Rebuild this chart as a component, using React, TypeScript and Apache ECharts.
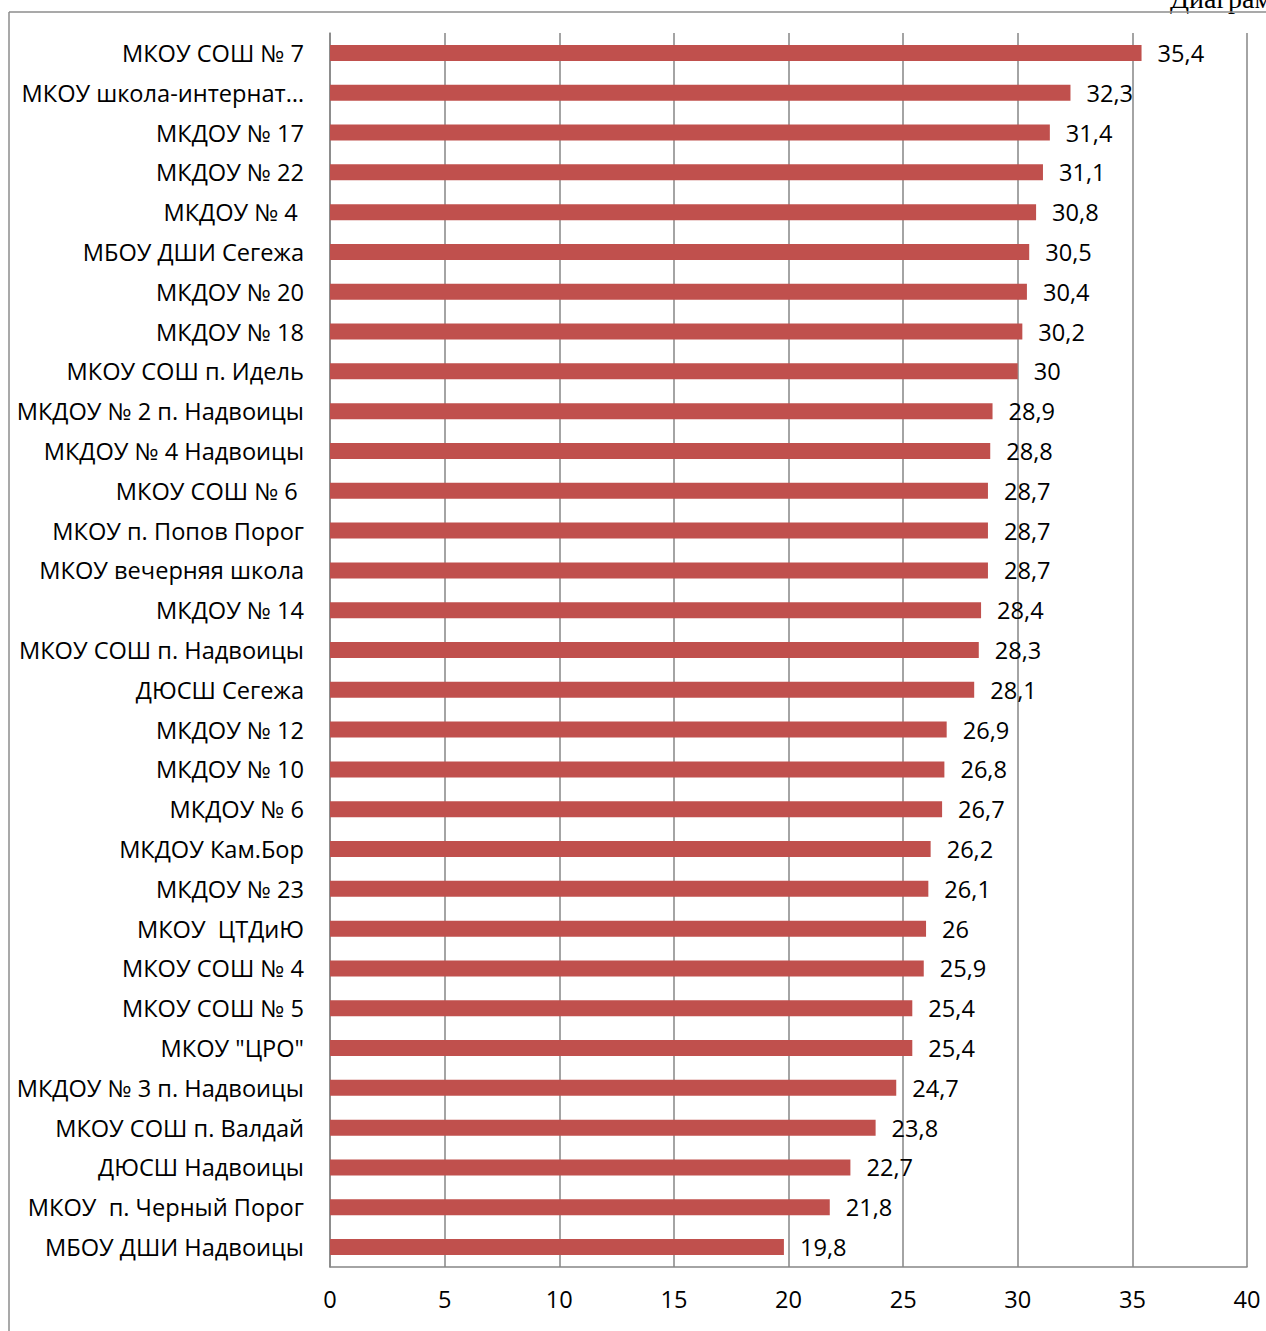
import React, { useEffect, useRef } from "react";
import * as echarts from "echarts";

const categories = [
  "МКОУ СОШ № 7",
  "МКОУ школа-интернат…",
  "МКДОУ № 17",
  "МКДОУ № 22",
  "МКДОУ № 4 ",
  "МБОУ ДШИ Сегежа",
  "МКДОУ № 20",
  "МКДОУ № 18",
  "МКОУ СОШ п. Идель",
  "МКДОУ № 2 п. Надвоицы",
  "МКДОУ № 4 Надвоицы",
  "МКОУ СОШ № 6 ",
  "МКОУ п. Попов Порог",
  "МКОУ вечерняя школа",
  "МКДОУ № 14",
  "МКОУ СОШ п. Надвоицы",
  "ДЮСШ Сегежа",
  "МКДОУ № 12",
  "МКДОУ № 10",
  "МКДОУ № 6",
  "МКДОУ Кам.Бор",
  "МКДОУ № 23",
  "МКОУ  ЦТДиЮ",
  "МКОУ СОШ № 4",
  "МКОУ СОШ № 5",
  "МКОУ \"ЦРО\"",
  "МКДОУ № 3 п. Надвоицы",
  "МКОУ СОШ п. Валдай",
  "ДЮСШ Надвоицы",
  "МКОУ  п. Черный Порог",
  "МБОУ ДШИ Надвоицы",
];

const values = [
  35.4, 32.3, 31.4, 31.1, 30.8, 30.5, 30.4, 30.2, 30, 28.9, 28.8, 28.7, 28.7,
  28.7, 28.4, 28.3, 28.1, 26.9, 26.8, 26.7, 26.2, 26.1, 26, 25.9, 25.4, 25.4,
  24.7, 23.8, 22.7, 21.8, 19.8,
];

const xTicks = [0, 5, 10, 15, 20, 25, 30, 35, 40];

const FONT = "'Open Sans', 'Noto Sans', sans-serif";
const FS = 23.6;

export default function App() {
  const ref = useRef<HTMLDivElement>(null);
  useEffect(() => {
    if (!ref.current) return;
    const chart = echarts.init(ref.current, null, { renderer: "svg" });
    chart.setOption({
      animation: false,
      backgroundColor: "#ffffff",
      graphic: [
        {
          type: "text",
          x: 1170,
          y: 12,
          style: {
            text: "Диаграмма",
            font: "28px 'Liberation Serif', 'DejaVu Serif', serif",
            fill: "#000",
            verticalAlign: "bottom",
            align: "left",
          },
        },
        {
          type: "line",
          shape: { x1: 9, y1: 12, x2: 1266, y2: 12 },
          style: { stroke: "#8c8c8c", lineWidth: 1.5 },
        },
        {
          type: "line",
          shape: { x1: 9, y1: 12, x2: 9, y2: 1331 },
          style: { stroke: "#8c8c8c", lineWidth: 1.5 },
        },
      ],
      grid: { left: 330, right: 19, top: 33, bottom: 64, containLabel: false },
      xAxis: {
        type: "value",
        min: xTicks[0],
        max: xTicks[xTicks.length - 1],
        interval: 5,
        axisLine: { show: true, lineStyle: { color: "#868686", width: 1.5 } },
        axisTick: { show: false },
        splitLine: { show: true, lineStyle: { color: "#868686", width: 1.5 } },
        axisLabel: {
          margin: 20,
          color: "#000",
          fontFamily: FONT,
          fontSize: FS,
        },
      },
      yAxis: {
        type: "category",
        data: categories,
        inverse: true,
        axisLine: { show: true, lineStyle: { color: "#868686", width: 1.5 } },
        axisTick: { show: false },
        splitLine: { show: false },
        axisLabel: {
          margin: 26,
          color: "#000",
          fontFamily: FONT,
          fontSize: FS,
          interval: 0,
        },
      },
      series: [
        {
          type: "bar",
          data: values,
          barWidth: 16,
          itemStyle: { color: "#C0504D" },
          label: {
            show: true,
            position: "right",
            distance: 16,
            color: "#000",
            fontFamily: FONT,
            fontSize: FS,
            formatter: (p: any) => String(p.value).replace(".", ","),
          },
        },
      ],
    });
    return () => chart.dispose();
  }, []);
  return (
    <div
      ref={ref}
      style={{ position: "fixed", left: 0, top: 0, width: 1266, height: 1331 }}
    />
  );
}
